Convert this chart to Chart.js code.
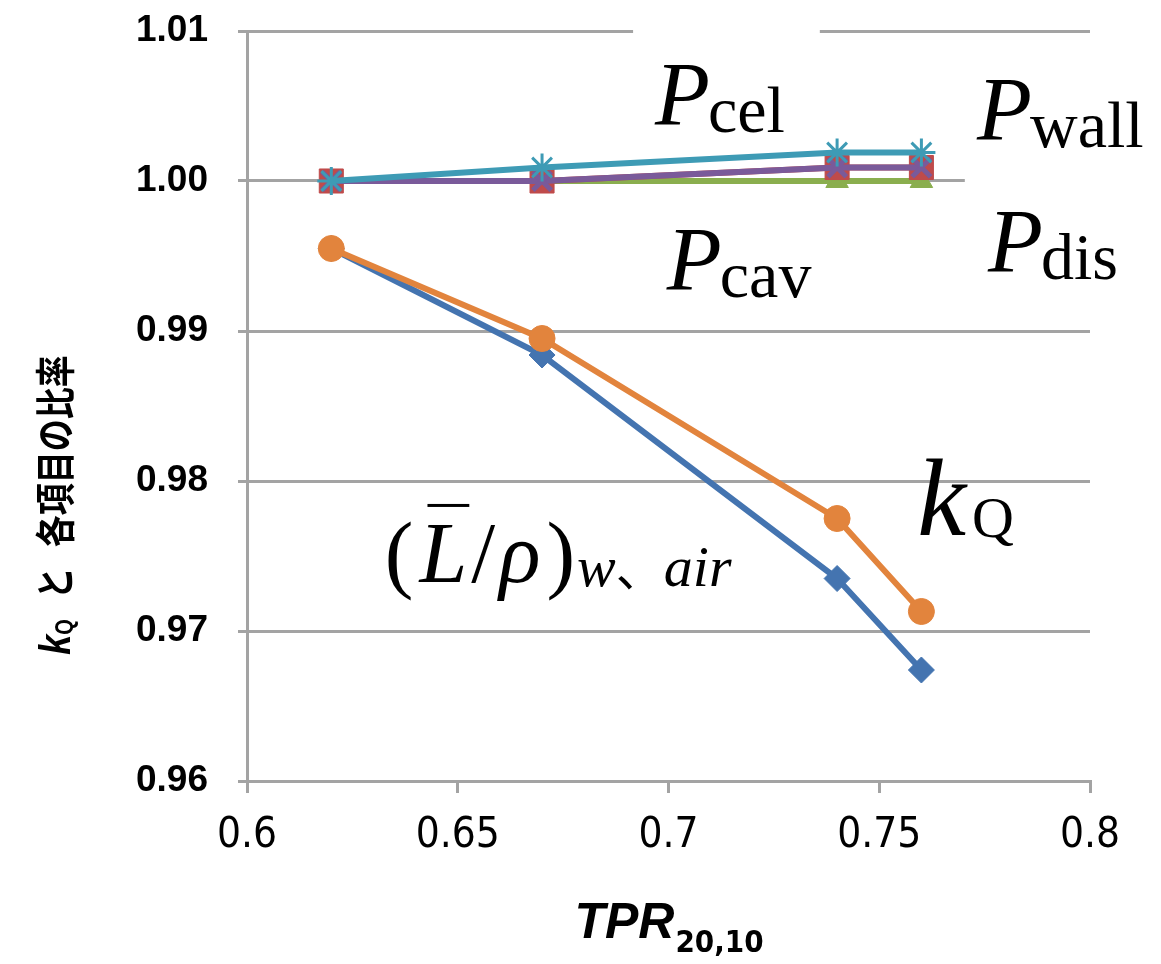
<!DOCTYPE html>
<html>
<head>
<meta charset="utf-8">
<script src="https://cdn.jsdelivr.net/npm/chart.js@4.4.1/dist/chart.umd.min.js"></script>
<style>
  body { margin: 0; background: #fff; }
  #wrap { width: 1161px; height: 964px; }
</style>
</head>
<body>
<div id="wrap"><canvas id="kqChart"></canvas></div>
<script>
// TPR20,10 values
const tpr = [0.62, 0.67, 0.74, 0.76];
// ratios
const stoppingRatio = [0.9955, 0.9884, 0.9735, 0.9674];
const kQ = [0.9955, 0.9895, 0.9775, 0.9713];
const pWall = [1.000, 1.0009, 1.0019, 1.0019];
const pCel = [1.000, 1.000, 1.0009, 1.0009];
const pDis = [1.000, 1.000, 1.0009, 1.0009];
const pCav = [1.000, 1.000, 1.000, 1.000];

const xTicks = [0.6, 0.65, 0.7, 0.75, 0.8];
const yTicks = [0.96, 0.97, 0.98, 0.99, 1.00, 1.01];

const gridGray = '#a3a3a3';
const pts = arr => arr.map((v, i) => ({ x: tpr[i], y: v }));

function series(label, values, color, style, radius, extra) {
  return Object.assign({
    label: label,
    data: pts(values),
    borderColor: color,
    backgroundColor: color,
    pointBackgroundColor: color,
    pointBorderColor: color,
    borderWidth: 6,
    pointStyle: style,
    pointRadius: radius,
    pointBorderWidth: 1,
    tension: 0
  }, extra || {});
}

const serif = '"Liberation Serif", "DejaVu Serif", serif';
const narrow = '"Liberation Sans Narrow", "DejaVu Sans Condensed", "Arial Narrow", "Liberation Sans", sans-serif';

// text annotations, drawn on top of the plot
const mathLabels = {
  id: 'mathLabels',
  beforeDatasetsDraw(chart) {
    const { ctx, scales: { x, y } } = chart;
    ctx.save();
    ctx.fillStyle = '#fff';
    // white label boxes that hide the gridlines behind Pcel / Pwall
    let x0 = x.getPixelForValue(0.6916), x1 = x.getPixelForValue(0.7359);
    ctx.fillRect(x0, 15, x1 - x0, y.getPixelForValue(1.0027) - 15);
    x0 = x.getPixelForValue(0.7703);
    ctx.fillRect(x0, 60, 1161 - x0, y.getPixelForValue(0.9995) - 60);
    ctx.restore();
  },
  afterDatasetsDraw(chart) {
    const { ctx, scales: { x, y } } = chart;
    ctx.save();
    ctx.fillStyle = '#000';
    ctx.textBaseline = 'alphabetic';

    function sym(xv, yv, main, sub) {
      const px = x.getPixelForValue(xv), py = y.getPixelForValue(yv);
      ctx.font = 'italic 90px ' + serif;
      ctx.fillText(main, px, py);
      const w = ctx.measureText(main).width;
      ctx.font = '66px ' + serif;
      ctx.fillText(sub, px + w - 2, py + 7);
    }
    sym(0.6968, 1.00373, 'P', 'cel');
    sym(0.7732, 1.00273, 'P', 'wall');
    sym(0.6996, 0.99273, 'P', 'cav');
    sym(0.7758, 0.99393, 'P', 'dis');

    // kQ
    let px = x.getPixelForValue(0.7590), py = y.getPixelForValue(0.97640);
    ctx.font = 'italic 110px ' + serif;
    ctx.fillText('k', px, py);
    let w = ctx.measureText('k').width;
    ctx.font = '58px ' + serif;
    ctx.fillText('Q', px + w + 6, py + 2);

    // (L̄/ρ)w、air
    px = x.getPixelForValue(0.6327); py = y.getPixelForValue(0.97327);
    const big = 86;
    ctx.font = big + 'px ' + serif;
    ctx.fillText('(', px, py);
    px += ctx.measureText('(').width + 6;
    ctx.font = 'italic ' + big + 'px ' + serif;
    ctx.fillText('L', px, py);
    const lw = ctx.measureText('L').width;
    ctx.fillRect(px + 8, py - 78, lw - 6, 3);
    px += lw + 4;
    ctx.font = big + 'px ' + serif;
    ctx.fillText('/', px, py);
    px += ctx.measureText('/').width + 4;
    ctx.font = 'italic ' + big + 'px ' + serif;
    ctx.fillText('\u03C1', px, py);
    px += ctx.measureText('\u03C1').width + 6;
    ctx.font = big + 'px ' + serif;
    ctx.fillText(')', px, py);
    px += ctx.measureText(')').width + 2;
    ctx.font = 'italic 58px ' + serif;
    ctx.fillText('w', px, py + 4);
    px += ctx.measureText('w').width;
    ctx.font = '48px "Noto Sans CJK JP"';
    ctx.fillText('\u3001', px, py + 4);
    px += ctx.measureText('\u3001').width;
    ctx.font = 'italic 58px ' + serif;
    ctx.fillText('air', px, py + 4);
    ctx.restore();
  },
  afterDraw(chart) {
    const { ctx, chartArea } = chart;
    ctx.save();
    ctx.fillStyle = '#000';
    ctx.textBaseline = 'alphabetic';

    // x axis title: TPR20,10
    const cx = (chartArea.left + chartArea.right) / 2;
    const tFont = 'italic bold 50px "Liberation Sans", Arial, sans-serif';
    const sFont = 'bold 31px ' + narrow;
    ctx.font = tFont;
    const tw = ctx.measureText('TPR').width;
    ctx.font = sFont;
    const sw = ctx.measureText('20,10').width;
    const sx = cx - (tw + sw) / 2;
    ctx.font = tFont;
    ctx.fillText('TPR', sx, 938);
    ctx.font = sFont;
    ctx.fillText('20,10', sx + tw + 1, 952);

    // y axis title: kQ と 各項目の比率 (squeezed along the text like the original)
    ctx.translate(70, 505);
    ctx.rotate(-Math.PI / 2);
    ctx.scale(1, 1.25);
    const kFont = 'italic bold 36px "Liberation Sans", Arial, sans-serif';
    const qFont = 'bold 20px "Liberation Sans", Arial, sans-serif';
    const jFont = 'bold 32px "Noto Sans CJK JP", sans-serif';
    const gap = 20;
    ctx.font = kFont; const kw = ctx.measureText('k').width;
    ctx.font = qFont; const qw = ctx.measureText('Q').width;
    ctx.font = jFont;
    const tw1 = ctx.measureText('\u3068').width;
    const tw2 = ctx.measureText('\u5404\u9805\u76EE\u306E\u6BD4\u7387').width;
    let tx = -(kw + qw + gap + tw1 + gap + tw2) / 2;
    ctx.font = kFont; ctx.fillText('k', tx, 0); tx += kw;
    ctx.font = qFont; ctx.fillText('Q', tx, 2); tx += qw + gap;
    ctx.font = jFont; ctx.fillText('\u3068', tx, 0); tx += tw1 + gap;
    ctx.fillText('\u5404\u9805\u76EE\u306E\u6BD4\u7387', tx, 0);
    ctx.restore();
  }
};

new Chart(document.getElementById('kqChart'), {
  type: 'line',
  data: {
    datasets: [
      series('Pwall', pWall, '#3e9bb5', 'star', 14, { pointBorderWidth: 3 }),
      series('Pcel', pCel, '#7a5a9a', 'crossRot', 13, { pointBorderWidth: 5 }),
      series('Pdis', pDis, '#bf4b4b', 'rect', 17),
      series('Pcav', pCav, '#8aae4e', 'triangle', 13),
      series('kQ', kQ, '#e2843d', 'circle', 13),
      series('(L/rho)w,air', stoppingRatio, '#4474b0', 'rectRot', 13)
    ]
  },
  options: {
    responsive: true,
    maintainAspectRatio: false,
    animation: false,
    layout: { padding: { top: 31, right: 71, bottom: 0, left: 0 } },
    plugins: {
      legend: { display: false },
      tooltip: { enabled: false }
    },
    scales: {
      x: {
        type: 'linear',
        min: 0.6,
        max: 0.8,
        afterFit: s => { s.height = 183; s.paddingLeft = 0; s.paddingRight = 0; },
        afterBuildTicks: s => { s.ticks = xTicks.map(v => ({ value: v })); },
        ticks: {
          padding: 18,
          color: '#000',
          font: { family: narrow, size: 42 },
          callback: v => String(+v.toFixed(2))
        },
        grid: { drawOnChartArea: false, drawTicks: true, tickLength: 12, color: gridGray, lineWidth: 3 },
        border: { color: gridGray, width: 3 }
      },
      y: {
        min: 0.96,
        max: 1.01,
        afterFit: s => { s.width = 247; s.paddingTop = 0; s.paddingBottom = 0; },
        afterBuildTicks: s => { s.ticks = yTicks.map(v => ({ value: v })); },
        ticks: {
          padding: 30,
          color: '#000',
          font: { family: '"Liberation Sans", Arial, sans-serif', size: 37, weight: 'bold' },
          callback: v => v.toFixed(2)
        },
        grid: { drawOnChartArea: true, drawTicks: true, tickLength: 9, color: gridGray, lineWidth: 3 },
        border: { color: gridGray, width: 3 }
      }
    }
  },
  plugins: [mathLabels]
});
</script>
</body>
</html>
